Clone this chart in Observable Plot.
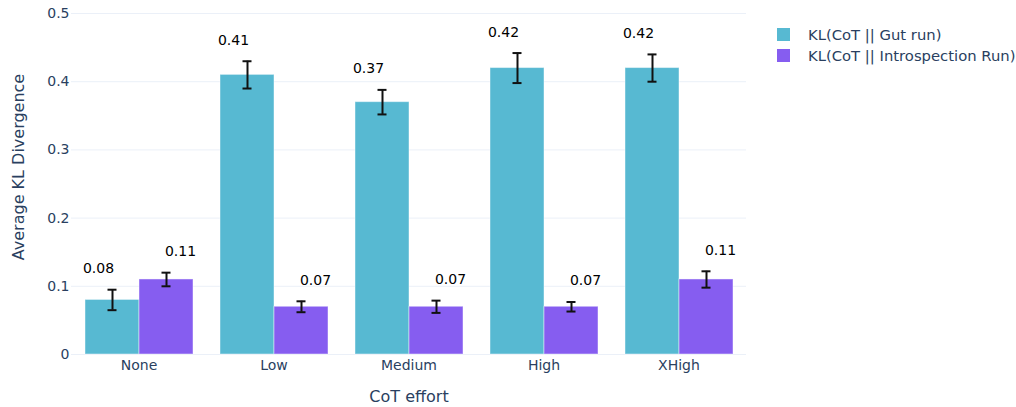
<!DOCTYPE html>
<html>
<head>
<meta charset="utf-8">
<script src="https://cdn.jsdelivr.net/npm/d3@7"></script>
<script src="https://cdn.jsdelivr.net/npm/@observablehq/plot@0.6"></script>
<style>
  body { margin: 0; background: #fff; }
  #wrap { position: relative; width: 1016px; height: 407px; font-family: "DejaVu Sans", sans-serif; color: #2a3f5f; }
  #wrap svg { position: absolute; left: 0; top: 0; }
  .ytitle { position: absolute; left: 18px; top: 167px; transform: translate(-50%, -50%) rotate(-90deg); font-size: 16px; white-space: nowrap; }
  .xtitle { position: absolute; left: 409px; top: 396px; transform: translate(-50%, -50%); font-size: 16px; white-space: nowrap; }
  .legend { position: absolute; left: 777px; top: 24px; font-size: 14.8px; }
  .legend .item { display: flex; align-items: center; height: 21px; }
  .legend .sw { width: 13px; height: 13px; margin-right: 18px; }
</style>
</head>
<body>
<div id="wrap"></div>
<script>
const categories = ["None", "Low", "Medium", "High", "XHigh"];
const series = ["KL(CoT || Gut run)", "KL(CoT || Introspection Run)"];
const gutValues = [0.08, 0.41, 0.37, 0.42, 0.42];
const gutErrors = [0.015, 0.02, 0.018, 0.022, 0.02];
const introValues = [0.11, 0.07, 0.07, 0.07, 0.11];
const introErrors = [0.01, 0.008, 0.009, 0.007, 0.012];
const yTicks = [0, 0.1, 0.2, 0.3, 0.4, 0.5];
const colors = ["#57b9d2", "#865df0"];
const xTitle = "CoT effort";
const yTitle = "Average KL Divergence";

const gutData = categories.map((c, i) => ({category: c, series: series[0], value: gutValues[i], err: gutErrors[i]}));
const introData = categories.map((c, i) => ({category: c, series: series[1], value: introValues[i], err: introErrors[i]}));
const data = gutData.concat(introData);

const chart = Plot.plot({
  width: 1016,
  height: 407,
  marginLeft: 70,
  marginRight: 270,
  marginTop: 13,
  marginBottom: 53,
  style: {fontFamily: "'DejaVu Sans', sans-serif", fontSize: "14px", color: "#2a3f5f", background: "transparent"},
  fx: {domain: categories, padding: 0},
  x: {domain: series, axis: null, paddingInner: 0, paddingOuter: 0.25},
  y: {domain: [0, 0.5]},
  color: {domain: series, range: colors},
  marks: [
    Plot.gridY(yTicks, {stroke: "#ebf0f8", strokeOpacity: 1, strokeWidth: 1}),
    Plot.axisY(yTicks, {tickSize: 0, tickPadding: 2, label: null, fontSize: 14, tickFormat: d => d === 0 ? "0" : d3.format(".1f")(d)}),
    Plot.axisFx({anchor: "bottom", tickSize: 0, tickPadding: 6, label: null, fontSize: 14}),
    Plot.barY(data, {fx: "category", x: "series", y: "value", fill: "series", stroke: "white", strokeOpacity: 0.45, strokeWidth: 1}),
    Plot.ruleX(data, {fx: "category", x: "series", y1: d => d.value - d.err, y2: d => d.value + d.err, stroke: "#111", strokeWidth: 2}),
    Plot.tickY(data, {fx: "category", x: "series", y: d => d.value + d.err, insetLeft: 22.5, insetRight: 22.5, stroke: "#111", strokeWidth: 2}),
    Plot.tickY(data, {fx: "category", x: "series", y: d => d.value - d.err, insetLeft: 22.5, insetRight: 22.5, stroke: "#111", strokeWidth: 2}),
    Plot.text(gutData, {fx: "category", x: "series", y: d => d.value + d.err, text: d => d.value.toFixed(2), dy: -21, dx: -14, fill: "black", fontSize: 14}),
    Plot.text(introData, {fx: "category", x: "series", y: d => d.value + d.err, text: d => d.value.toFixed(2), dy: -21, dx: 14, fill: "black", fontSize: 14})
  ]
});

const wrap = document.getElementById("wrap");
wrap.appendChild(chart);

const yt = document.createElement("div");
yt.className = "ytitle"; yt.textContent = yTitle; wrap.appendChild(yt);
const xt = document.createElement("div");
xt.className = "xtitle"; xt.textContent = xTitle; wrap.appendChild(xt);

const legend = document.createElement("div");
legend.className = "legend";
series.forEach((s, i) => {
  const item = document.createElement("div");
  item.className = "item";
  const sw = document.createElement("div");
  sw.className = "sw"; sw.style.background = colors[i];
  const lab = document.createElement("span");
  lab.textContent = s;
  item.appendChild(sw); item.appendChild(lab);
  legend.appendChild(item);
});
wrap.appendChild(legend);
</script>
</body>
</html>
